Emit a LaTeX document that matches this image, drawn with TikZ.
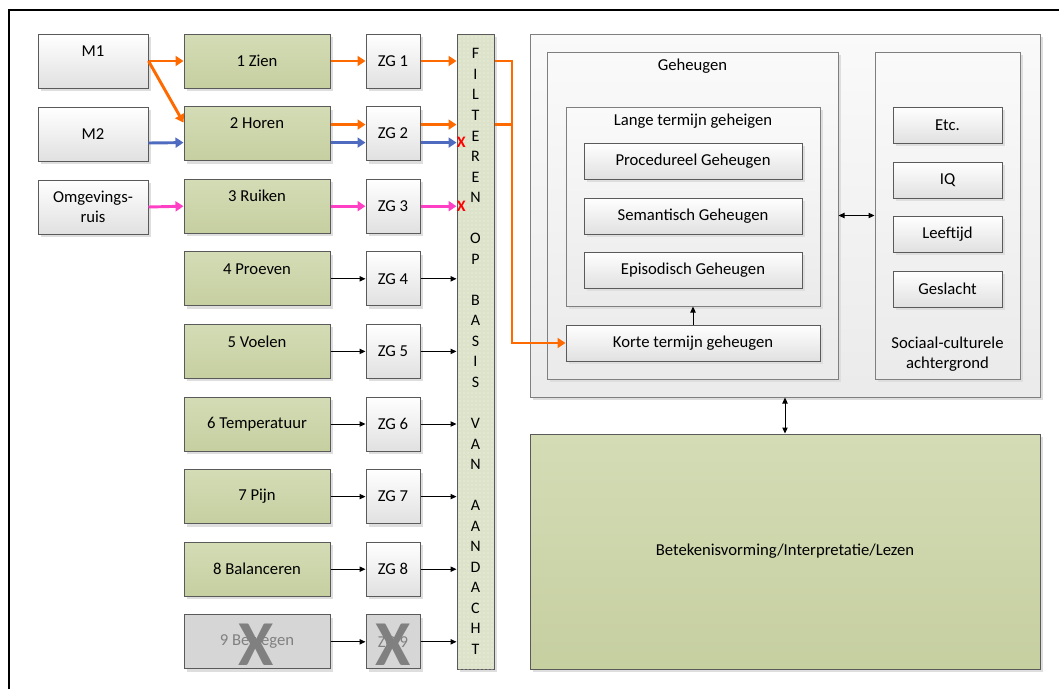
\documentclass[tikz,border=0pt]{standalone}
\usepackage{fontspec}
\setmainfont{Carlito}
\usetikzlibrary{arrows.meta,shadows,calc,patterns.meta}

\definecolor{boxline}{HTML}{5A5A5A}
\definecolor{contline}{HTML}{7F7F7F}
\definecolor{gtop}{HTML}{D4DCB6}
\definecolor{gbot}{HTML}{C6CFA0}
\definecolor{xgray}{HTML}{D6D6D6}
\definecolor{bargreen}{HTML}{DDE3CA}
\definecolor{orng}{HTML}{FF6A00}
\definecolor{blu}{HTML}{4F6BBF}
\definecolor{pnk}{HTML}{FF40C4}
\definecolor{faded}{HTML}{808080}

% raise a label inside its box without changing the box size
\newcommand\uptext[1]{\raisebox{7.5pt}[\height][\depth]{#1}}

\begin{document}
\begin{tikzpicture}[x=0.75pt,y=-0.75pt,
  font=\fontsize{12.5}{15}\selectfont,
  % spot=left/top/right/bottom in pixel units
  spot/.style n args={4}{minimum width={(#3-#1)*0.75pt}, minimum height={(#4-#2)*0.75pt},
    at={({(#1+#3)/2},{(#2+#4)/2})}},
  box/.style={draw=boxline, line width=0.75pt, inner sep=0pt, align=center,
    drop shadow={shadow xshift=2.2pt, shadow yshift=-2.2pt, fill=black!13, opacity=1}},
  wbox/.style={box, top color=white, bottom color=white!88!black},
  gbox/.style={box, top color=gtop, bottom color=gbot},
  xbox/.style={box, fill=xgray, text=faded},
  cont/.style={box, draw=contline, top color=white!98!black, bottom color=white!92!black},
  blk/.style={draw=black, line width=0.75pt, -{Triangle[length=4.5pt,width=4pt]}},
  dbl/.style={draw=black, line width=0.75pt, {Triangle[length=4.5pt,width=4pt]}-{Triangle[length=4.5pt,width=4pt]}},
  fat/.style={line width=2.2pt, -{Triangle[length=6pt,width=7.5pt]}},
  fatline/.style={line width=2.2pt},
  redx/.style={text=red, font=\fontsize{12}{13}\selectfont\bfseries, inner sep=0pt, anchor=west},
  bigx/.style={text=faded, font=\fontsize{48}{48}\selectfont\bfseries, inner sep=0pt},
  txt/.style={inner sep=0pt, align=center}
]
\useasboundingbox (0,0) rectangle (1059,689);

% page frame
\draw[line width=2pt] (9,689) -- (9,10) -- (1059,10);

% stimulus sources
\node[wbox, spot={38}{34}{148}{88}]   (m1) {\uptext{M1}};
\node[wbox, spot={38}{107}{148}{161}] (m2) {M2};
\node[wbox, spot={38}{180}{148}{234}] (m3) {Omgevings-\\ruis};

% senses
\node[gbox, spot={184}{34}{330}{88}]       (g1) {1 Zien};
\node[gbox, spot={184}{106.6}{330}{160.6}] (g2) {\uptext{2 Horen}};
\node[gbox, spot={184}{179.2}{330}{233.2}] (g3) {\uptext{3 Ruiken}};
\node[gbox, spot={184}{251.8}{330}{305.8}] (g4) {\uptext{4 Proeven}};
\node[gbox, spot={184}{324.4}{330}{378.4}] (g5) {\uptext{5 Voelen}};
\node[gbox, spot={184}{397}{330}{451}]     (g6) {6 Temperatuur};
\node[gbox, spot={184}{469.6}{330}{523.6}] (g7) {7 Pijn};
\node[gbox, spot={184}{542.2}{330}{596.2}] (g8) {8 Balanceren};
\node[xbox, spot={184}{614.8}{330}{668.8}] (g9) {9 Bewegen};

% sensory registers
\node[wbox, spot={366}{34}{420}{88}]       (z1) {ZG 1};
\node[wbox, spot={366}{106.6}{420}{160.6}] (z2) {ZG 2};
\node[wbox, spot={366}{179.2}{420}{233.2}] (z3) {ZG 3};
\node[wbox, spot={366}{251.8}{420}{305.8}] (z4) {ZG 4};
\node[wbox, spot={366}{324.4}{420}{378.4}] (z5) {ZG 5};
\node[wbox, spot={366}{397}{420}{451}]     (z6) {ZG 6};
\node[wbox, spot={366}{469.6}{420}{523.6}] (z7) {ZG 7};
\node[wbox, spot={366}{542.2}{420}{596.2}] (z8) {ZG 8};
\node[xbox, spot={366}{614.8}{420}{668.8}] (z9) {ZG 9};

% crossed-out sense
\node[bigx] (x9a) at ($(g9.center)+(-1,3)$) {X};
\node[bigx] (x9b) at ($(z9.center)+(0,3)$) {X};

% attention filter
\node[box, spot={457}{34}{494}{669}, fill=bargreen,
  postaction={pattern={Dots[distance=3pt,radius=0.45pt]}, pattern color=white!70!bargreen}] (bar) {};
\node[txt, font=\fontsize{12}{15.4}\selectfont] (bartext) at (bar.center)
  {F\\I\\L\\T\\E\\R\\E\\N\\\mbox{}\\O\\P\\\mbox{}\\B\\A\\S\\I\\S\\\mbox{}\\V\\A\\N\\\mbox{}\\A\\A\\N\\D\\A\\C\\H\\T};

% memory and background
\node[cont, spot={530}{34}{1040}{397}] (outer) {};
\node[cont, spot={547}{52}{838}{379}]  (gh) {};
\node[txt] (ghtitle) at ($(gh.north)+(0,15)$) {Geheugen};
\node[cont, spot={566}{107}{820}{306}] (lt) {};
\node[txt] (lttitle) at ($(lt.north)+(0,15)$) {Lange termijn geheigen};
\node[wbox, spot={584}{143}{802}{179}] (pg) {Procedureel Geheugen};
\node[wbox, spot={584}{198}{802}{234}] (sg) {Semantisch Geheugen};
\node[wbox, spot={584}{252}{802}{288}] (eg) {Episodisch Geheugen};
\node[wbox, spot={566}{325}{820}{361}] (kt) {Korte termijn geheugen};

\node[cont, spot={875}{52}{1020}{379}] (sc) {};
\node[txt] (sctitle) at ($(sc.south)+(0,-25)$) {Sociaal-culturele\\achtergrond};
\node[wbox, spot={893}{107}{1002}{143}] (etc) {Etc.};
\node[wbox, spot={893}{162}{1002}{198}] (iq) {IQ};
\node[wbox, spot={893}{216}{1002}{252}] (lft) {Leeftijd};
\node[wbox, spot={893}{271}{1002}{307}] (gsl) {Geslacht};

\node[gbox, spot={530}{434}{1040}{669}] (bg) {Betekenisvorming/Interpretatie/Lezen};

% inputs from the sources
\draw[fat, orng] (m1.east) -- (g1.west);
\draw[fat, orng] (m1.east) -- ($(g2.west)+(0,-11)$);
\draw[fat, blu]  ($(m2.east)+(0,9)$) -- ($(g2.west)+(0,9)$);
\draw[fat, pnk]  (m3.east) -- (g3.west);

% senses to registers
\draw[fat, orng] (g1.east) -- (z1.west);
\draw[fat, orng] ($(g2.east)+(0,-9)$) -- ($(z2.west)+(0,-9)$);
\draw[fat, blu]  ($(g2.east)+(0,9)$) -- ($(z2.west)+(0,9)$);
\draw[fat, pnk]  (g3.east) -- (z3.west);
\foreach \i in {4,...,9}{
  \draw[blk] (g\i.east) -- (z\i.west);
  \draw[blk] (z\i.east) -- (z\i.east -| bar.west);
}

% registers to the filter
\coordinate (z2o) at ($(z2.east)+(0,-9)$);
\coordinate (z2b) at ($(z2.east)+(0,9)$);
\draw[fat, orng] (z1.east) -- (z1.east -| bar.west);
\draw[fat, orng] (z2o) -- (z2o -| bar.west);
\draw[fat, blu]  (z2b) -- (z2b -| bar.west);
\draw[fat, pnk]  (z3.east) -- (z3.east -| bar.west);
\node[redx] (blockb) at (z2b -| bar.west) {X};
\node[redx] (blockp) at (z3.east -| bar.west) {X};

% what passes the filter reaches short-term memory
\coordinate (bus) at (512,0);
\draw[fat, orng] (z1.east -| bar.east) -- (z1.east -| bus) -- (kt.west -| bus) -- (kt.west);
\draw[fatline, orng] (z2o -| bar.east) -- (z2o -| bus);

% memory links
\draw[blk] (kt.north) -- (lt.south);
\draw[dbl] (gh.east) -- (sc.west);
\draw[dbl] (outer.south) -- (bg.north);
\end{tikzpicture}
\end{document}
